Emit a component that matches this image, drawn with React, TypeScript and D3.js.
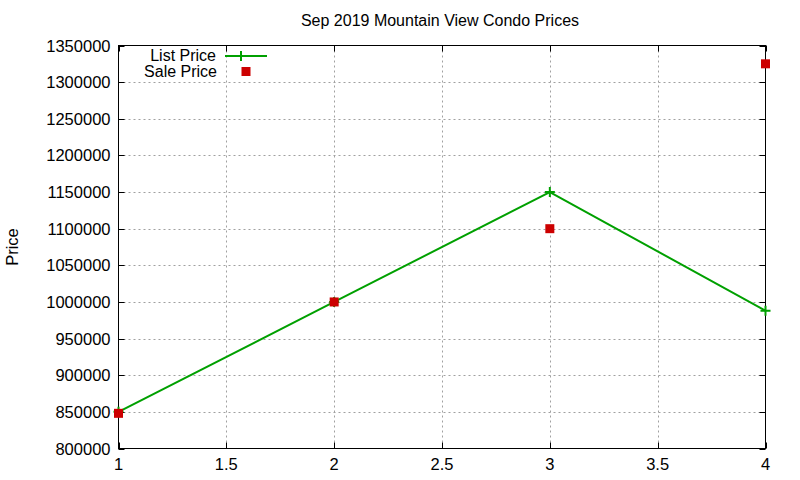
import React from "react";
import * as d3 from "d3";

const xs = [1, 2, 3, 4];
const listPrice = [850000, 1000000, 1150000, 988000];
const salePrice = [848000, 1000000, 1100000, 1325000];
const xTicks = [1, 1.5, 2, 2.5, 3, 3.5, 4];
const yTicks = [800000, 850000, 900000, 950000, 1000000, 1050000, 1100000, 1150000, 1200000, 1250000, 1300000, 1350000];
const title = "Sep 2019 Mountain View Condo Prices";

export default function App() {
  const W = 800, H = 480;
  const L = 118.5, R = 765.5, T = 45.5, B = 448.5;
  const x = d3.scaleLinear().domain([1, 4]).range([L, R]);
  const y = d3.scaleLinear().domain([800000, 1350000]).range([B, T]);
  const line = d3.line<number>().x((_, i) => x(xs[i])).y((d) => y(d));
  const font = "'Liberation Sans', Arial, sans-serif";
  const green = "#00a000";
  const red = "#cc0000";
  return (
    <svg width={W} height={H} style={{ position: "absolute", left: 0, top: 0 }} fontFamily={font}>
      <rect width={W} height={H} fill="#fff" />
      {xTicks.map((t) => (
        <g key={"gx" + t}>
          {t > 1 && t < 4 && (
            <line x1={Math.round(x(t)) + 0.5} x2={Math.round(x(t)) + 0.5} y1={T} y2={B} stroke="#a0a0a0" strokeDasharray="2,3" />
          )}
          <line x1={Math.round(x(t)) + 0.5} x2={Math.round(x(t)) + 0.5} y1={B} y2={B - 6} stroke="#000" />
          <line x1={Math.round(x(t)) + 0.5} x2={Math.round(x(t)) + 0.5} y1={T} y2={T + 6} stroke="#000" />
          <text x={x(t)} y={B + 21} fontSize={16.5} textAnchor="middle">{t}</text>
        </g>
      ))}
      {yTicks.map((t) => (
        <g key={"gy" + t}>
          {t > 800000 && t < 1350000 && (
            <line x1={L} x2={R} y1={Math.round(y(t)) + 0.5} y2={Math.round(y(t)) + 0.5} stroke="#a0a0a0" strokeDasharray="2,3" />
          )}
          <line x1={L} x2={L + 6} y1={Math.round(y(t)) + 0.5} y2={Math.round(y(t)) + 0.5} stroke="#000" />
          <line x1={R} x2={R - 6} y1={Math.round(y(t)) + 0.5} y2={Math.round(y(t)) + 0.5} stroke="#000" />
          <text x={L - 8} y={y(t) + 6} fontSize={16.5} textAnchor="end">{t}</text>
        </g>
      ))}
      <rect x={L} y={T} width={R - L} height={B - T} fill="none" stroke="#000" strokeWidth={1} />
      <text x={440} y={26} fontSize={16} textAnchor="middle">{title}</text>
      <text transform={`translate(18,${247}) rotate(-90)`} fontSize={16.5} textAnchor="middle">Price</text>
      <path d={line(listPrice) ?? ""} fill="none" stroke={green} strokeWidth={2} />
      {listPrice.map((v, i) => (
        <path key={"lp" + i} d={`M${x(xs[i]) - 5},${y(v)}h10M${x(xs[i])},${y(v) - 5}v10`} stroke={green} strokeWidth={2} />
      ))}
      {salePrice.map((v, i) => (
        <rect key={"sp" + i} x={x(xs[i]) - 4.5} y={y(v) - 4.5} width={9} height={9} fill={red} />
      ))}
      <text x={216} y={61} fontSize={16} textAnchor="end">List Price</text>
      <line x1={225} x2={267} y1={56} y2={56} stroke={green} strokeWidth={2} />
      <path d={`M241,51v10`} stroke={green} strokeWidth={2} />
      <text x={217} y={77} fontSize={16} textAnchor="end">Sale Price</text>
      <rect x={241.5} y={67} width={9} height={9} fill={red} />
    </svg>
  );
}
